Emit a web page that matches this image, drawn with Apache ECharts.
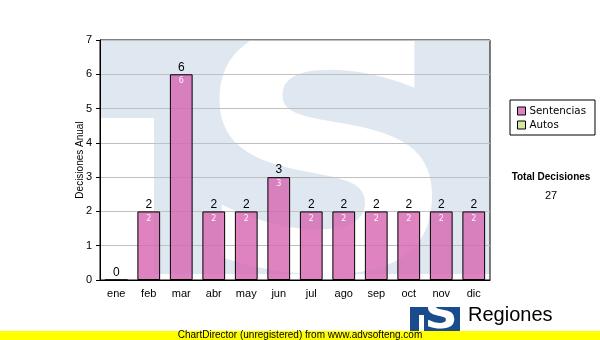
<!DOCTYPE html>
<html>
<head>
<meta charset="utf-8">
<script src="https://cdn.jsdelivr.net/npm/echarts@6/dist/echarts.min.js"></script>
<style>
html,body{margin:0;padding:0;background:#fff;}
#chart{width:600px;height:340px;}
</style>
</head>
<body>
<div id="chart"></div>
<script>
const categories = ['ene','feb','mar','abr','may','jun','jul','ago','sep','oct','nov','dic'];
const sentencias = [0, 2, 6, 2, 2, 3, 2, 2, 2, 2, 2, 2];
const autos = [0, 0, 0, 0, 0, 0, 0, 0, 0, 0, 0, 0];
const yTicks = [0, 1, 2, 3, 4, 5, 6, 7];
const seriesNames = ['Sentencias', 'Autos'];
const yAxisTitle = 'Decisiones Anual';
const totalTitle = 'Total Decisiones';
const total = sentencias.reduce((a, b) => a + b, 0) + autos.reduce((a, b) => a + b, 0);

const AX = 'Liberation Sans, Arial, sans-serif';
const chart = echarts.init(document.getElementById('chart'), null, {renderer: 'canvas'});

chart.setOption({
  animation: false,
  backgroundColor: '#ffffff',
  grid: {left: 100, right: 110, top: 40, bottom: 60, show: true, borderColor: '#000', borderWidth: 1, backgroundColor: 'transparent'},
  legend: {
    data: seriesNames,
    orient: 'vertical',
    left: 510, top: 100,
    padding: [6, 9, 5, 7],
    itemWidth: 8, itemHeight: 8, itemGap: 4,
    icon: 'rect',
    itemStyle: {borderColor: '#000', borderWidth: 1},
    borderColor: '#000', borderWidth: 1,
    selectedMode: false,
    textStyle: {fontFamily: 'DejaVu Sans, Verdana, sans-serif', fontSize: 10.3, color: '#000', padding: [0, 0, 0, -1]}
  },
  xAxis: {
    type: 'category',
    data: categories,
    axisLine: {lineStyle: {color: '#000', width: 1}},
    axisTick: {alignWithLabel: true, length: 4, lineStyle: {color: '#000'}},
    axisLabel: {fontFamily: AX, fontSize: 11, color: '#000', margin: 8},
    splitLine: {show: false}
  },
  yAxis: {
    type: 'value',
    min: yTicks[0], max: yTicks[yTicks.length - 1], interval: 1,
    name: yAxisTitle,
    nameLocation: 'middle',
    nameGap: 15,
    nameMoveOverlap: false,
    nameTextStyle: {fontFamily: AX, fontSize: 10, color: '#000'},
    axisLine: {show: true, lineStyle: {color: '#000', width: 1}},
    axisTick: {show: true, inside: false, length: 4, lineStyle: {color: '#000'}},
    axisLabel: {fontFamily: AX, fontSize: 11, color: '#000', margin: 8},
    splitLine: {lineStyle: {color: '#c0c0c0', width: 1}}
  },
  series: [
    {
      name: seriesNames[0],
      type: 'bar',
      stack: 'total',
      data: sentencias,
      barCategoryGap: '30%',
      barGap: '-100%',
      itemStyle: {color: 'rgba(214,100,176,0.8)', borderColor: '#000', borderWidth: 1},
      label: {show: true, position: 'top', distance: 1, fontFamily: AX, fontSize: 12, color: '#000'},
      z: 3
    },
    {
      name: seriesNames[1],
      type: 'bar',
      stack: 'total',
      data: autos,
      barCategoryGap: '30%',
      barGap: '-100%',
      itemStyle: {color: '#d6e9a0', borderColor: '#000', borderWidth: 0},
      z: 3
    },
    {
      name: '_inner',
      type: 'bar',
      data: sentencias,
      barCategoryGap: '30%',
      barGap: '-100%',
      itemStyle: {color: 'rgba(0,0,0,0)'},
      label: {
        show: true, position: 'insideTop', distance: 3,
        fontFamily: 'DejaVu Sans, sans-serif', fontSize: 8, color: 'rgba(255,255,255,0.92)',
        formatter: p => (p.value > 0 ? String(p.value) : '')
      },
      z: 4
    }
  ],
  graphic: [
    {type: 'rect', z: -10, silent: true, shape: {x: 101, y: 41, width: 389, height: 233}, style: {fill: '#dfe8f1'}},
    {type: 'rect', z: -9, silent: true, shape: {x: 100, y: 118, width: 54, height: 162}, style: {fill: '#ffffff'}},
    {type: 'text', z: -9, silent: true, x: 326, y: 184, scaleX: 1.12,
      style: {text: 'S', fontSize: 330, fontWeight: 'bold', fontFamily: 'DejaVu Sans, sans-serif', fill: '#ffffff', textAlign: 'center', textVerticalAlign: 'middle'}},
    {type: 'rect', z: -9, silent: true, shape: {x: 100, y: 0, width: 400, height: 40}, style: {fill: '#ffffff'}},
    {type: 'text', silent: true, x: 551, y: 177,
      style: {text: totalTitle, fontSize: 10, fontWeight: 'bold', fontFamily: AX, fill: '#000', textAlign: 'center', textVerticalAlign: 'middle'}},
    {type: 'text', silent: true, x: 551, y: 196,
      style: {text: String(total), fontSize: 11, fontFamily: AX, fill: '#000', textAlign: 'center', textVerticalAlign: 'middle'}},
    {type: 'rect', silent: true, shape: {x: 410, y: 307, width: 50, height: 30}, style: {fill: '#1a4b8c'}},
    {type: 'rect', silent: true, shape: {x: 419, y: 315, width: 5, height: 20}, style: {fill: '#ffffff'}},
    {type: 'text', silent: true, x: 441, y: 318, scaleX: 1.15,
      style: {text: 'S', fontSize: 40, fontWeight: 'bold', fontFamily: 'DejaVu Sans, sans-serif', fill: '#ffffff', textAlign: 'center', textVerticalAlign: 'middle'}},
    {type: 'text', silent: true, x: 468, y: 315,
      style: {text: 'Regiones', fontSize: 20, fontFamily: AX, fill: '#000', textAlign: 'left', textVerticalAlign: 'middle'}},
    {type: 'rect', silent: true, shape: {x: 0, y: 331, width: 600, height: 9}, style: {fill: '#ffff00'}},
    {type: 'text', silent: true, x: 300, y: 335.5,
      style: {text: 'ChartDirector (unregistered) from www.advsofteng.com', fontSize: 10, fontFamily: AX, fill: '#000', textAlign: 'center', textVerticalAlign: 'middle'}}
  ]
});
</script>
</body>
</html>
